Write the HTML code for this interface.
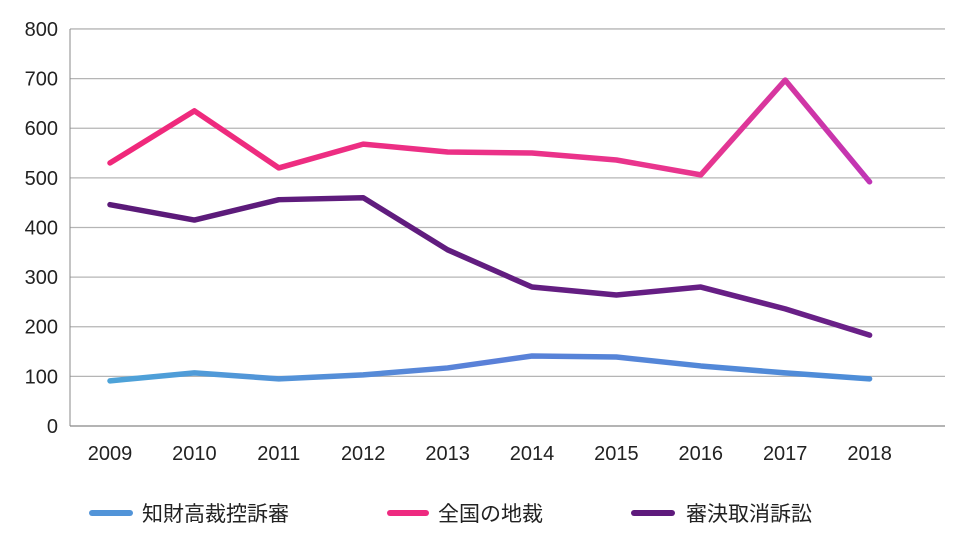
<!DOCTYPE html>
<html><head><meta charset="utf-8"><style>
body{margin:0;background:#fff;}
svg text{font-family:"Liberation Sans","Noto Sans CJK JP",sans-serif;fill:#222;}
</style></head><body>
<svg width="960" height="545" viewBox="0 0 960 545">
<defs>
<linearGradient id="gPink" gradientUnits="userSpaceOnUse" x1="110" x2="870" y1="0" y2="0"><stop offset="0" stop-color="#f0287a"/><stop offset="0.78" stop-color="#e8368f"/><stop offset="1" stop-color="#c035b5"/></linearGradient>
<linearGradient id="gBlue" gradientUnits="userSpaceOnUse" x1="110" x2="870" y1="0" y2="0"><stop offset="0" stop-color="#4da3d8"/><stop offset="0.5" stop-color="#5a80d8"/><stop offset="1" stop-color="#4d8ed8"/></linearGradient>
<linearGradient id="gPurple" gradientUnits="userSpaceOnUse" x1="110" x2="870" y1="0" y2="0"><stop offset="0" stop-color="#5a1a78"/><stop offset="1" stop-color="#6a2088"/></linearGradient>
</defs>
<g id="grid"></g>
<g id="series"></g>
<g>
<line x1="92" y1="513" x2="130" y2="513" stroke="#5294d8" stroke-width="6" stroke-linecap="round"/>
<text x="142" y="521" font-size="21">知財高裁控訴審</text>
<line x1="390" y1="513" x2="426" y2="513" stroke="#ee2a80" stroke-width="6" stroke-linecap="round"/>
<text x="438" y="521" font-size="21">全国の地裁</text>
<line x1="634" y1="513" x2="672" y2="513" stroke="#5e1a7c" stroke-width="6" stroke-linecap="round"/>
<text x="686" y="521" font-size="21">審決取消訴訟</text>
</g>
</svg>
<script>
const years=["2009","2010","2011","2012","2013","2014","2015","2016","2017","2018"];
const yTicks=[0,100,200,300,400,500,600,700,800];
const districtCourts=[530,635,520,568,552,550,536,506,697,492];
const revocationSuits=[446,415,456,460,355,280,264,280,236,183];
const ipHighCourt=[91,107,95,103,117,141,139,121,107,95];
const NS="http://www.w3.org/2000/svg";
const x=i=>110+i*84.4;
const y=v=>426-v*0.4963;
const grid=document.getElementById('grid');
yTicks.forEach(t=>{
 const l=document.createElementNS(NS,'line');
 
 
 l.setAttribute('x1',70);l.setAttribute('x2',945);l.setAttribute('y1',y(t));l.setAttribute('y2',y(t));
 l.setAttribute('stroke',t===0?'#888':'#b5b5b5');l.setAttribute('stroke-width','1.3');
 grid.appendChild(l);
 const tx=document.createElementNS(NS,'text');
 
 
 tx.setAttribute('x',58);tx.setAttribute('y',y(t)+7);tx.setAttribute('text-anchor','end');tx.setAttribute('font-size','20');
 tx.textContent=t;grid.appendChild(tx);
});
const ax=document.createElementNS(NS,'line');


ax.setAttribute('x1',70);ax.setAttribute('x2',70);ax.setAttribute('y1',y(800));ax.setAttribute('y2',y(0));ax.setAttribute('stroke','#888');
grid.appendChild(ax);
years.forEach((yr,i)=>{
 const tx=document.createElementNS(NS,'text');
 
 
 tx.setAttribute('x',x(i));tx.setAttribute('y',460);tx.setAttribute('text-anchor','middle');tx.setAttribute('font-size','20');
 tx.textContent=yr;grid.appendChild(tx);
});
const ser=document.getElementById('series');
[[districtCourts,'url(#gPink)','line-district-courts'],[revocationSuits,'url(#gPurple)','line-revocation-suits'],[ipHighCourt,'url(#gBlue)','line-ip-high-court']].forEach(([d,c,n])=>{
 const p=document.createElementNS(NS,'polyline');
 
 
 p.setAttribute('points',d.map((v,i)=>x(i)+','+y(v)).join(' '));
 p.setAttribute('fill','none');p.setAttribute('stroke',c);p.setAttribute('stroke-width','5.5');
 p.setAttribute('stroke-linejoin','round');p.setAttribute('stroke-linecap','round');
 ser.appendChild(p);
});
</script>
</body></html>
